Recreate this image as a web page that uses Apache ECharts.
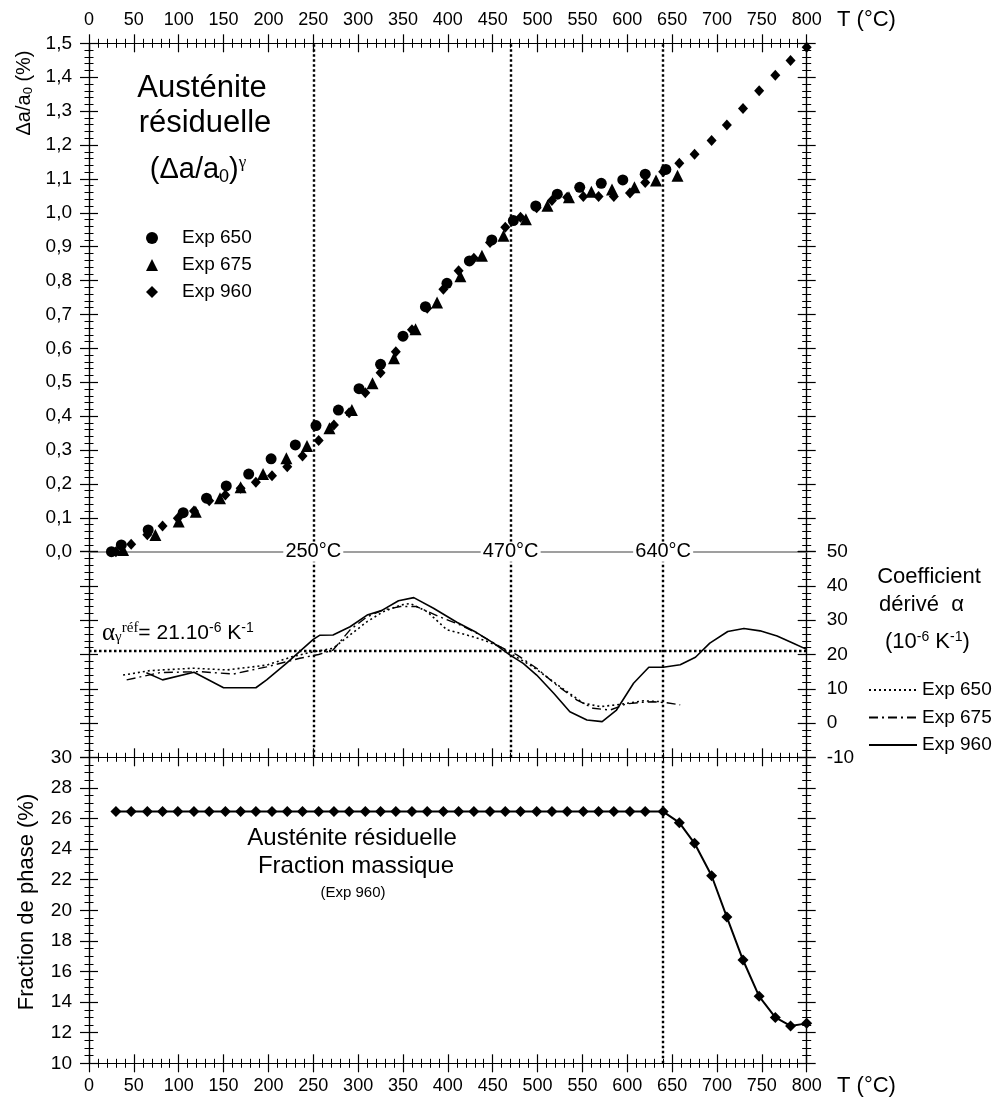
<!DOCTYPE html>
<html><head><meta charset="utf-8">
<script src="https://cdn.jsdelivr.net/npm/echarts@6/dist/echarts.min.js"></script>
<style>html,body{margin:0;padding:0;background:#fff}#c{width:998px;height:1099px}</style>
</head><body><div id="c"></div>
<script>
// ---------- DATA ----------
// Top panel: relative lattice dilatation of residual austenite (%)
const tempExp650 = [25, 36, 66, 105, 131, 153, 178, 203, 230, 253, 278, 301, 325, 350, 375, 399, 424, 449, 473, 498, 522, 547, 571, 595, 620, 643];
const dilatExp650 = [0.000, 0.020, 0.064, 0.115, 0.158, 0.194, 0.229, 0.274, 0.315, 0.372, 0.418, 0.481, 0.553, 0.636, 0.723, 0.792, 0.858, 0.920, 0.977, 1.020, 1.055, 1.075, 1.087, 1.097, 1.114, 1.128];
const tempExp675 = [38, 74, 100, 119, 146, 169, 194, 220, 243, 268, 293, 316, 340, 364, 388, 414, 438, 462, 487, 511, 535, 560, 583, 608, 632, 656];
const dilatExp675 = [0.005, 0.049, 0.089, 0.118, 0.158, 0.190, 0.229, 0.276, 0.312, 0.364, 0.418, 0.497, 0.571, 0.656, 0.735, 0.813, 0.873, 0.932, 0.981, 1.021, 1.046, 1.062, 1.069, 1.075, 1.095, 1.109];
const tempExp960 = [30, 47, 65, 82, 99, 117, 134, 152, 169, 186, 204, 221, 238, 256, 273, 290, 308, 325, 342, 360, 377, 395, 412, 429, 447, 464, 481, 499, 516, 533, 551, 568, 585, 603, 620, 640, 658, 675, 694, 711, 729, 747, 765, 782, 800];
const dilatExp960 = [0.000, 0.022, 0.050, 0.076, 0.099, 0.120, 0.150, 0.167, 0.187, 0.205, 0.224, 0.251, 0.282, 0.328, 0.374, 0.410, 0.469, 0.528, 0.590, 0.655, 0.718, 0.774, 0.829, 0.866, 0.912, 0.957, 0.987, 1.015, 1.036, 1.046, 1.048, 1.048, 1.048, 1.058, 1.089, 1.121, 1.146, 1.173, 1.213, 1.259, 1.308, 1.360, 1.406, 1.449, 1.488];

// Middle panel: derived expansion coefficient (1e-6 /K)
const alphaT650 = [38, 68, 116, 154, 198, 227, 250, 272, 291, 310, 328, 347, 358, 377, 399, 421, 440, 458, 469, 495, 525, 551, 570, 588, 618, 640];
const alpha650 = [14.0, 15.3, 16.0, 15.5, 16.9, 19.4, 20.8, 21.8, 25.7, 29.6, 32.5, 34.4, 34.9, 32.5, 27.2, 25.7, 24.2, 22.3, 20.4, 16.4, 10.6, 5.8, 4.8, 5.3, 6.5, 6.2];
const alphaT675 = [42, 79, 123, 161, 198, 235, 256, 272, 291, 310, 328, 347, 365, 391, 414, 436, 458, 477, 499, 521, 544, 562, 581, 599, 614, 629, 644, 659];
const alpha675 = [12.6, 14.7, 15.0, 14.3, 16.4, 18.9, 20.0, 21.3, 27.2, 31.0, 33.0, 34.0, 34.0, 31.0, 28.6, 25.7, 22.3, 19.9, 16.0, 11.1, 6.7, 4.3, 3.8, 5.6, 6.0, 6.2, 5.9, 5.3];
const alphaT960 = [64, 82, 117, 150, 186, 198, 220, 250, 257, 272, 291, 310, 326, 345, 362, 384, 410, 432, 451, 469, 484, 499, 518, 536, 555, 572, 588, 607, 624, 640, 659, 676, 692, 712, 730, 748, 767, 785, 800];
const alpha960 = [14.7, 12.6, 14.8, 10.3, 10.3, 12.6, 17.4, 24.4, 25.6, 25.7, 28.1, 31.5, 32.8, 35.7, 36.6, 33.5, 29.4, 26.4, 23.3, 19.9, 17.4, 14.0, 8.7, 3.3, 0.9, 0.4, 3.8, 11.6, 16.3, 16.3, 17.0, 19.2, 23.3, 26.7, 27.6, 26.9, 25.4, 23.3, 21.5];
const alphaRef = 21;

// Bottom panel: residual austenite mass fraction (%) for Exp 960 (same temperatures as tempExp960)
const fractionExp960 = [26.45, 26.45, 26.45, 26.45, 26.45, 26.45, 26.45, 26.45, 26.45, 26.45,
  26.45, 26.45, 26.45, 26.45, 26.45, 26.45, 26.45, 26.45, 26.45, 26.45,
  26.45, 26.45, 26.45, 26.45, 26.45, 26.45, 26.45, 26.45, 26.45, 26.45,
  26.45, 26.45, 26.45, 26.45, 26.45, 26.45,
  25.73, 24.38, 22.26, 19.56, 16.75, 14.38, 13.00, 12.44, 12.61];

// Transition temperatures
const markTemps = [250, 470, 640];
const markTempLabels = ['250°C', '470°C', '640°C'];

// ---------- CHART ----------
const SANS = '"Liberation Sans", Arial, sans-serif';
const SERIF = '"Liberation Serif", "Times New Roman", serif';
const zip = (a, b) => a.map((v, i) => [v, b[i]]);

function xAx(grid, pos, inside, labels) {
  return {
    type: 'value', gridIndex: grid, position: pos, min: 0, max: 800, interval: 50,
    axisLine: {show: true, onZero: false, lineStyle: {color: '#000', width: 1.2}},
    axisTick: {show: true, inside: inside, length: 9, lineStyle: {color: '#000', width: 1.2}},
    minorTick: {show: true, splitNumber: 5, length: 4.5, lineStyle: {color: '#000', width: 1}},
    axisLabel: {show: labels, margin: 14, fontFamily: SANS, fontSize: 18, color: '#000'},
    splitLine: {show: false}, minorSplitLine: {show: false}
  };
}
function yAx(grid, pos, inside, labels, min, max, interval, minorSplit, fmt) {
  return {
    type: 'value', gridIndex: grid, position: pos, min: min, max: max, interval: interval,
    axisLine: {show: true, onZero: false, lineStyle: {color: '#000', width: 1.2}},
    axisTick: {show: true, inside: inside, length: 9, lineStyle: {color: '#000', width: 1.2}},
    minorTick: {show: true, splitNumber: minorSplit, length: 4.5, lineStyle: {color: '#000', width: 1}},
    axisLabel: {show: labels, margin: pos === 'right' ? 20 : 17, fontFamily: SANS, fontSize: 19, color: '#000',
      formatter: fmt || (v => String(v))},
    splitLine: {show: false}, minorSplitLine: {show: false}
  };
}
const commaFmt = v => v.toFixed(1).replace('.', ',');

const xAxes = [
  xAx(0, 'top', false, true),   // 0 main top
  xAx(0, 'top', true, false),   // 1
  {type: 'value', gridIndex: 0, position: 'bottom', min: 0, max: 800,
   axisLine: {show: true, onZero: false, lineStyle: {color: '#808080', width: 1.6}},
   axisTick: {show: false}, minorTick: {show: false}, axisLabel: {show: false}, splitLine: {show: false}}, // 2 gray separator
  xAx(1, 'bottom', false, false), // 3 main middle
  xAx(1, 'bottom', true, false),  // 4
  xAx(2, 'bottom', false, true),  // 5 main bottom
  xAx(2, 'bottom', true, false)   // 6
];
const yAxes = [
  yAx(0, 'left', false, true, 0, 1.5, 0.1, 5, commaFmt),  // 0 main top
  yAx(0, 'left', true, false, 0, 1.5, 0.1, 5),
  yAx(0, 'right', false, false, 0, 1.5, 0.1, 5),
  yAx(0, 'right', true, false, 0, 1.5, 0.1, 5),
  yAx(1, 'left', false, false, -10, 50, 10, 5),           // 4 main middle
  yAx(1, 'left', true, false, -10, 50, 10, 5),
  yAx(1, 'right', false, true, -10, 50, 10, 5),
  yAx(1, 'right', true, false, -10, 50, 10, 5),
  yAx(2, 'left', false, true, 10, 30, 2, 4),              // 8 main bottom
  yAx(2, 'left', true, false, 10, 30, 2, 4),
  yAx(2, 'right', false, false, 10, 30, 2, 4),
  yAx(2, 'right', true, false, 10, 30, 2, 4)
];

const dotted = {color: '#000', type: [2.5, 2.5], width: 2.4, opacity: 1};
const vLines = markTemps.map(t => ({xAxis: t}));
const black = {color: '#000', opacity: 1};

const option = {
  animation: false,
  backgroundColor: '#fff',
  grid: [
    {left: 89, right: 191.3, top: 43.3, height: 508.4, outerBoundsMode: 'none', containLabel: false},
    {left: 89, right: 191.3, top: 551.7, height: 205.6, outerBoundsMode: 'none', containLabel: false},
    {left: 89, right: 191.3, top: 757.3, height: 306, outerBoundsMode: 'none', containLabel: false}
  ],
  xAxis: xAxes,
  yAxis: yAxes,
  legend: [
    {left: 146, top: 228, orient: 'vertical', itemWidth: 12, itemHeight: 12, itemGap: 7, padding: 0,
     selectedMode: false, data: ['Exp 650', 'Exp 675', 'Exp 960'], itemStyle: {opacity: 1},
     textStyle: {fontFamily: SANS, fontSize: 19, color: '#000', lineHeight: 20, padding: [0, 0, 0, 19]}},
    {left: 868, top: 680, orient: 'vertical', itemWidth: 48, itemHeight: 12, itemGap: 7.5, padding: 0,
     selectedMode: false, data: ['α Exp 650', 'α Exp 675', 'α Exp 960'],
     itemStyle: {opacity: 0},
     formatter: n => n.replace('α ', ''),
     textStyle: {fontFamily: SANS, fontSize: 19, color: '#000', lineHeight: 20}}
  ],
  series: [
    {name: 'Exp 650', type: 'scatter', xAxisIndex: 0, yAxisIndex: 0, symbol: 'circle', symbolSize: 11,
     itemStyle: black, data: zip(tempExp650, dilatExp650)},
    {name: 'Exp 675', type: 'scatter', xAxisIndex: 0, yAxisIndex: 0, symbol: 'triangle', symbolSize: 12,
     itemStyle: black, data: zip(tempExp675, dilatExp675)},
    {name: 'Exp 960', type: 'scatter', xAxisIndex: 0, yAxisIndex: 0, symbol: 'diamond', symbolSize: [10, 11],
     itemStyle: black, data: zip(tempExp960, dilatExp960),
     markLine: {silent: true, symbol: 'none', label: {show: false}, lineStyle: dotted, data: vLines}},
    {name: 'α Exp 650', type: 'line', xAxisIndex: 3, yAxisIndex: 4, showSymbol: false, symbol: 'none',
     itemStyle: black, lineStyle: {color: '#000', width: 1.6, type: [2, 3]}, data: zip(alphaT650, alpha650)},
    {name: 'α Exp 675', type: 'line', xAxisIndex: 3, yAxisIndex: 4, showSymbol: false, symbol: 'none',
     itemStyle: black, lineStyle: {color: '#000', width: 1.4, type: [9, 4, 2, 4]}, data: zip(alphaT675, alpha675)},
    {name: 'α Exp 960', type: 'line', xAxisIndex: 3, yAxisIndex: 4, showSymbol: false, symbol: 'none',
     itemStyle: black, lineStyle: {color: '#000', width: 1.6}, data: zip(alphaT960, alpha960),
     markLine: {silent: true, symbol: 'none', label: {show: false}, lineStyle: dotted,
       data: vLines.concat([{yAxis: alphaRef}])}},
    {name: 'Fraction', type: 'line', xAxisIndex: 5, yAxisIndex: 8, symbol: 'diamond', symbolSize: 11, showSymbol: true,
     itemStyle: black, lineStyle: {color: '#000', width: 2}, data: zip(tempExp960, fractionExp960),
     markLine: {silent: true, symbol: 'none', label: {show: false}, lineStyle: dotted,
       data: [{xAxis: markTemps[2]}]}},
    {name: 'tlabels', type: 'scatter', xAxisIndex: 3, yAxisIndex: 4, z: 10, clip: false, silent: true,
     symbol: 'rect', symbolSize: [60, 20], itemStyle: {color: '#fff', opacity: 1},
     label: {show: true, position: 'inside', color: '#000', opacity: 1, fontFamily: SANS, fontSize: 20,
       formatter: p => markTempLabels[p.dataIndex]},
     emphasis: {disabled: true},
     data: markTemps.map(t => [t, 50])}
  ],
  graphic: [
    {type: 'text', x: 202, y: 88, style: {text: 'Austénite', font: '31px ' + SANS, fill: '#000', align: 'center', verticalAlign: 'middle'}},
    {type: 'text', x: 205, y: 123, style: {text: 'résiduelle', font: '31px ' + SANS, fill: '#000', align: 'center', verticalAlign: 'middle'}},
    {type: 'text', x: 198, y: 170, style: {text: '{m|(Δa/a}{b|0}{m|)}{p|γ}', align: 'center', verticalAlign: 'middle', fill: '#000',
      rich: {m: {fontFamily: SANS, fontSize: 29, lineHeight: 32, fill: '#000'},
             b: {fontFamily: SANS, fontSize: 18, verticalAlign: 'bottom', fill: '#000'},
             p: {fontFamily: SERIF, fontSize: 17, verticalAlign: 'top', fill: '#000'}}}},
    {type: 'text', x: 24, y: 93, rotation: Math.PI / 2, style: {text: '{m|Δa/a}{b|0}{m| (%)}', align: 'center', verticalAlign: 'middle', fill: '#000',
      rich: {m: {fontFamily: SANS, fontSize: 20, lineHeight: 22, fill: '#000'},
             b: {fontFamily: SANS, fontSize: 13, verticalAlign: 'bottom', fill: '#000'}}}},
    {type: 'text', x: 27, y: 902, rotation: Math.PI / 2, style: {text: 'Fraction de phase (%)', font: '22px ' + SANS, fill: '#000', align: 'center', verticalAlign: 'middle'}},
    {type: 'text', x: 837, y: 20, style: {text: 'T (°C)', font: '22px ' + SANS, fill: '#000', align: 'left', verticalAlign: 'middle'}},
    {type: 'text', x: 837, y: 1086, style: {text: 'T (°C)', font: '22px ' + SANS, fill: '#000', align: 'left', verticalAlign: 'middle'}},
    {type: 'text', x: 929, y: 577, style: {text: 'Coefficient', font: '22px ' + SANS, fill: '#000', align: 'center', verticalAlign: 'middle'}},
    {type: 'text', x: 879, y: 605, style: {text: 'dérivé  α', font: '22px ' + SANS, fill: '#000', align: 'left', verticalAlign: 'middle'}},
    {type: 'text', x: 885, y: 642, style: {text: '{m|(10}{p|-6}{m| K}{p|-1}{m|)}', align: 'left', verticalAlign: 'middle', fill: '#000',
      rich: {m: {fontFamily: SANS, fontSize: 22, lineHeight: 24, fill: '#000'},
             p: {fontFamily: SANS, fontSize: 14, verticalAlign: 'top', fill: '#000'}}}},
    {type: 'text', x: 102, y: 633, style: {text: '{a|α}{g|γ}{r|réf}{m|= 21.10}{p|-6}{m| K}{p|-1}', align: 'left', verticalAlign: 'middle', fill: '#000',
      rich: {a: {fontFamily: SERIF, fontSize: 25, lineHeight: 24, fill: '#000'},
             g: {fontFamily: SERIF, fontSize: 15, verticalAlign: 'bottom', fill: '#000'},
             r: {fontFamily: SERIF, fontSize: 15, verticalAlign: 'top', fill: '#000'},
             m: {fontFamily: SANS, fontSize: 21, lineHeight: 24, fill: '#000'},
             p: {fontFamily: SANS, fontSize: 14, verticalAlign: 'top', fill: '#000'}}}},
    {type: 'text', x: 352, y: 838, style: {text: 'Austénite résiduelle', font: '24px ' + SANS, fill: '#000', align: 'center', verticalAlign: 'middle'}},
    {type: 'text', x: 356, y: 866, style: {text: 'Fraction massique', font: '24px ' + SANS, fill: '#000', align: 'center', verticalAlign: 'middle'}},
    {type: 'text', x: 353, y: 893, style: {text: '(Exp 960)', font: '15px ' + SANS, fill: '#000', align: 'center', verticalAlign: 'middle'}}
  ]
};

const chart = echarts.init(document.getElementById('c'), null, {renderer: 'canvas', width: 998, height: 1099});
chart.setOption(option);
</script></body></html>
